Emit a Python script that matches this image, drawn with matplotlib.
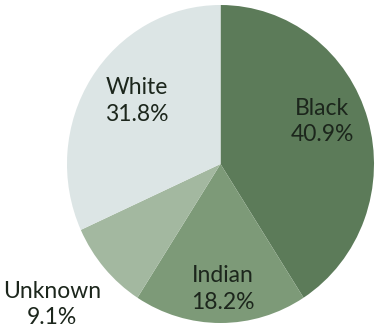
import matplotlib
matplotlib.use("Agg")
import matplotlib.pyplot as plt

categories = ["Black", "Indian", "Unknown", "White"]
values = [40.9, 18.2, 9.1, 31.8]
colors = ["#5c7b59", "#7d9a78", "#a3b8a0", "#dce5e5"]
label_pos = [(0.661, 0.270), (0.016, -0.786), (-1.098, -0.881), (-0.544, 0.396)]

W, H = 375, 331
fig = plt.figure(figsize=(W / 100, H / 100), dpi=100)
fig.patch.set_facecolor("white")
cx, cy, rx, ry = 220.5, 164, 153.5, 159
ax = fig.add_axes([(cx - rx) / W, (H - cy - ry) / H, 2 * rx / W, 2 * ry / H])
ax.pie(values, colors=colors, startangle=90, counterclock=False,
       wedgeprops=dict(linewidth=0), radius=1, center=(0, 0), frame=False)
ax.set_aspect("auto")
ax.set_xlim(-1, 1)
ax.set_ylim(-1, 1)
ax.axis("off")

for cat, v, (x, y) in zip(categories, values, label_pos):
    ax.text(x, y, f"{cat}\n{v:.1f}%", ha="center", va="center",
            fontsize=16.5, family=["Lato", "DejaVu Sans"], color="#1c261c",
            linespacing=1.3, clip_on=False)

fig.savefig("out.png", dpi=100, facecolor="white")
